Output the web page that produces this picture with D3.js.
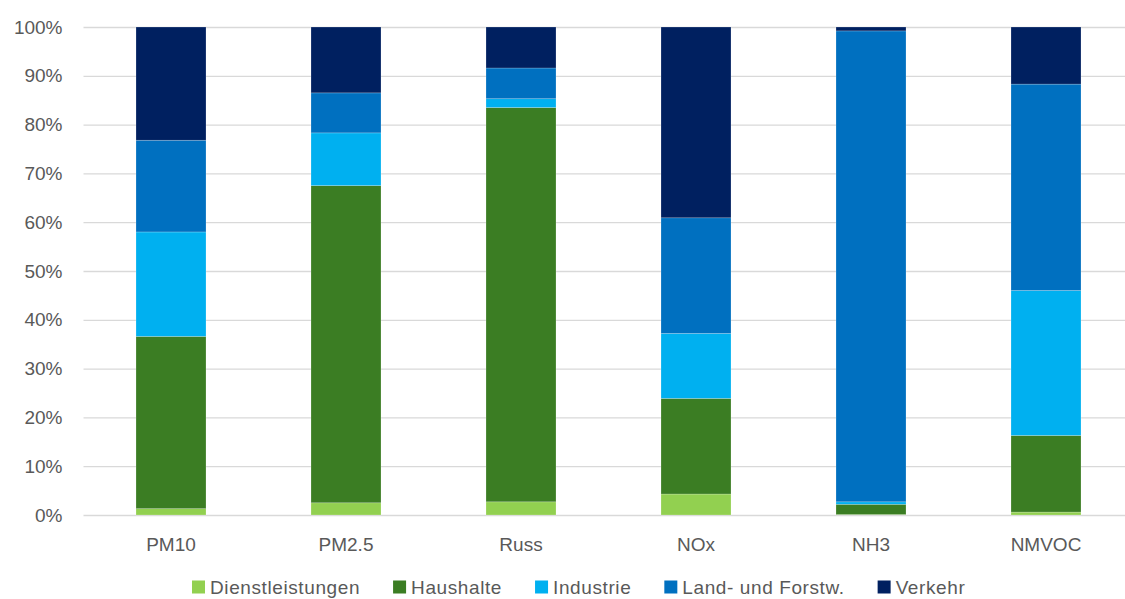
<!DOCTYPE html>
<html>
<head>
<meta charset="utf-8">
<script src="https://cdn.jsdelivr.net/npm/d3@7"></script>
<style>
  html, body { margin: 0; padding: 0; background: #fff; }
  svg { display: block; font-family: "Liberation Sans", Arial, sans-serif; }
</style>
</head>
<body>
<div id="chart"></div>
<script>
// categories (pollutants)
const CATEGORIES = ['PM10', 'PM2.5', 'Russ', 'NOx', 'NH3', 'NMVOC'];

// sectors, stacked bottom to top
const SECTORS = ['Dienstleistungen', 'Haushalte', 'Industrie', 'Land- und Forstw.', 'Verkehr'];

// shares in % per category, one array per sector
const DIENSTLEISTUNGEN = [1.3, 2.5, 2.7, 4.3, 0.1, 0.6];
const HAUSHALTE        = [35.3, 65.0, 80.8, 19.6, 2.1, 15.7];
const INDUSTRIE        = [21.4, 10.8, 1.8, 13.3, 0.5, 29.7];
const LAND_FORST       = [18.8, 8.2, 6.3, 23.7, 96.5, 42.3];
const VERKEHR          = [23.2, 13.5, 8.4, 39.1, 0.8, 11.7];

const Y_TICKS = [0, 10, 20, 30, 40, 50, 60, 70, 80, 90, 100];

// colours
const COLORS = {
  'Dienstleistungen': '#92D050',
  'Haushalte': '#3B7D23',
  'Industrie': '#00B0F0',
  'Land- und Forstw.': '#0070C0',
  'Verkehr': '#002060'
};
const TEXT_COLOR = '#595959';
const GRID_COLOR = '#D9D9D9';

// canvas
const W = 1125, H = 599;
const PLOT = { left: 83.5, right: 1133.5, top: 27, bottom: 515 };

const SERIES = [DIENSTLEISTUNGEN, HAUSHALTE, INDUSTRIE, LAND_FORST, VERKEHR];

// table for d3.stack
const table = CATEGORIES.map((c, i) => {
  const row = { cat: c };
  SECTORS.forEach((s, j) => { row[s] = SERIES[j][i]; });
  return row;
});

const stack = d3.stack()
  .keys(SECTORS)
  .offset(d3.stackOffsetExpand);
const layers = stack(table);

const x = d3.scaleBand()
  .domain(CATEGORIES)
  .range([PLOT.left, PLOT.right])
  .paddingInner(0.6)
  .paddingOuter(0.3);

const y = d3.scaleLinear()
  .domain([0, 1])
  .range([PLOT.bottom, PLOT.top]);

const svg = d3.select('#chart').append('svg')
  .attr('width', W)
  .attr('height', H)
  .attr('viewBox', `0 0 ${W} ${H}`);

// gridlines + y labels
const yAxis = d3.axisLeft(y)
  .tickValues(Y_TICKS.map(t => t / 100))
  .tickFormat(d => `${Math.round(d * 100)}%`)
  .tickSize(-(PLOT.right - PLOT.left))
  .tickPadding(21);

svg.append('g')
  .attr('class', 'y-axis')
  .attr('transform', `translate(${PLOT.left},0)`)
  .call(yAxis)
  .call(g => g.select('.domain').remove())
  .call(g => g.selectAll('.tick line')
    .attr('stroke', GRID_COLOR)
    .attr('stroke-width', 1.3))
  .call(g => g.selectAll('.tick text')
    .attr('fill', TEXT_COLOR)
    .attr('font-size', 19)
    .attr('font-family', '"Liberation Sans", Arial, sans-serif'));

// bars
const gBars = svg.append('g').attr('class', 'bars');
gBars.selectAll('g.layer')
  .data(layers)
  .join('g')
  .attr('class', 'layer')
  .attr('fill', d => COLORS[d.key])
  .selectAll('rect')
  .data(d => d)
  .join('rect')
  .attr('x', d => x(d.data.cat))
  .attr('width', x.bandwidth())
  .attr('y', d => y(d[1]))
  .attr('height', d => Math.max(0, y(d[0]) - y(d[1])))
  .attr('stroke', '#ffffff')
  .attr('stroke-opacity', 0.35)
  .attr('stroke-width', 0.6);

// x axis labels
const xAxis = d3.axisBottom(x).tickSize(0).tickPadding(0);
svg.append('g')
  .attr('class', 'x-axis')
  .attr('transform', `translate(0,${PLOT.bottom})`)
  .call(xAxis)
  .call(g => g.select('.domain').remove())
  .call(g => g.selectAll('.tick text')
    .attr('y', 29)
    .attr('dy', '0.35em')
    .attr('fill', TEXT_COLOR)
    .attr('font-size', 19)
    .attr('font-family', '"Liberation Sans", Arial, sans-serif'));

// legend, laid out left to right
const LEGEND = { x: 192, y: 587, box: 13, textGap: 5, itemGap: 33 };
const gLegend = svg.append('g').attr('class', 'legend');
let cursor = LEGEND.x;
SECTORS.forEach(s => {
  const item = gLegend.append('g').attr('transform', `translate(${cursor},0)`);
  item.append('rect')
    .attr('x', 0)
    .attr('y', LEGEND.y - LEGEND.box / 2)
    .attr('width', LEGEND.box)
    .attr('height', LEGEND.box)
    .attr('fill', COLORS[s]);
  const t = item.append('text')
    .attr('x', LEGEND.box + LEGEND.textGap)
    .attr('y', LEGEND.y)
    .attr('dy', '0.35em')
    .attr('fill', TEXT_COLOR)
    .attr('font-size', 19)
    .attr('letter-spacing', 0.6)
    .text(s);
  const w = t.node().getComputedTextLength();
  cursor += LEGEND.box + LEGEND.textGap + w + LEGEND.itemGap;
});
</script>
</body>
</html>
